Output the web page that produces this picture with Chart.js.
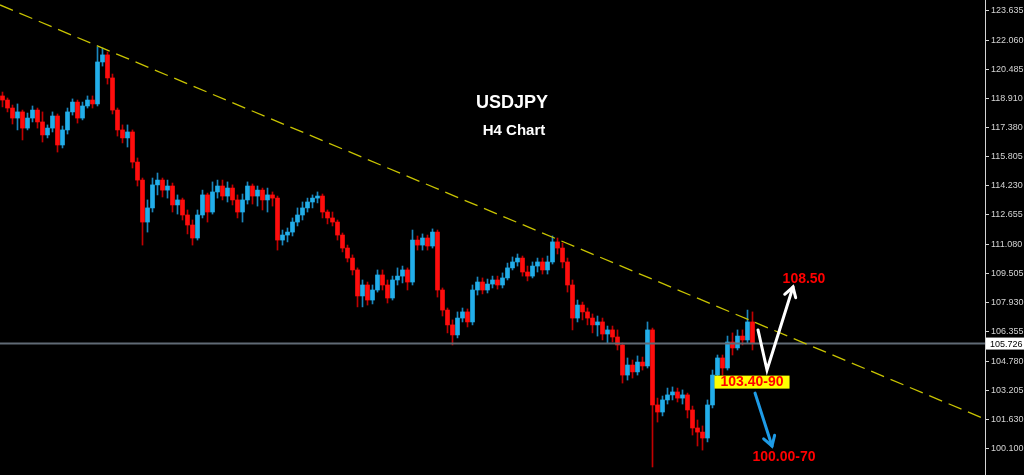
<!DOCTYPE html>
<html>
<head>
<meta charset="utf-8">
<style>
  html, body { margin: 0; padding: 0; background: #000; }
  #wrap { width: 1024px; height: 475px; position: relative; }
</style>
</head>
<body>
<div id="wrap"><canvas id="usdjpy"></canvas></div>
<script src="https://cdn.jsdelivr.net/npm/chart.js"></script>
<script>
// USDJPY H4 candles (one entry per candle, left to right)
const opens = [
  119.06, 118.84, 118.41, 117.87, 118.20, 117.33, 117.87, 118.30, 117.66, 116.96,
  117.33, 117.98, 116.42, 117.23, 118.20, 118.73, 117.87, 118.52, 118.84, 118.63,
  120.89, 121.27, 120.03, 118.30, 117.23, 116.80, 117.12, 115.50, 114.53, 112.27,
  113.03, 114.27, 114.53, 113.99, 114.21, 113.19, 113.46, 112.65, 112.11, 111.41,
  112.65, 113.73, 112.81, 113.89, 114.21, 113.67, 114.10, 113.46, 112.81, 113.46,
  114.21, 113.67, 113.99, 113.46, 113.73, 113.56, 111.30, 111.57, 111.73, 112.27,
  112.65, 113.03, 113.35, 113.56, 113.67, 112.81, 112.49, 112.27, 111.57, 110.87,
  110.33, 109.69, 108.29, 108.88, 108.07, 108.61, 109.42, 108.88, 108.18, 109.15,
  109.36, 109.69, 109.04, 111.30, 111.03, 111.41, 110.98, 111.73, 108.61, 107.53,
  106.73, 106.19, 107.10, 107.43, 106.89, 108.61, 109.04, 108.61, 108.93, 109.15,
  108.88, 109.26, 109.80, 110.12, 110.33, 109.58, 109.36, 109.90, 110.12, 109.69,
  110.12, 111.20, 110.87, 110.12, 108.88, 107.10, 107.80, 107.43, 107.10, 106.73,
  106.89, 106.24, 106.46, 106.08, 105.65, 104.03, 104.57, 104.20, 104.73, 104.52,
  106.46, 102.42, 102.04, 102.69, 102.96, 103.12, 102.79, 102.96, 102.15, 101.18,
  100.96, 100.64, 102.42, 104.03, 104.95, 104.41, 105.81, 105.49, 106.13, 105.92,
  106.89
];
const highs = [
  119.27, 118.95, 118.57, 118.63, 118.30, 118.14, 118.52, 118.41, 118.20, 117.50,
  118.20, 118.09, 117.44, 118.41, 118.90, 118.84, 118.73, 119.06, 119.06, 121.70,
  121.64, 121.43, 120.24, 118.41, 117.50, 117.50, 117.23, 115.72, 114.64, 113.46,
  114.64, 114.91, 114.64, 114.53, 114.37, 113.73, 113.56, 112.92, 112.38, 112.92,
  113.99, 113.83, 114.43, 114.53, 114.53, 114.43, 114.27, 113.73, 113.78, 114.43,
  114.32, 114.21, 114.10, 114.10, 113.89, 113.67, 111.84, 111.95, 112.49, 113.03,
  113.35, 113.56, 113.73, 113.89, 113.78, 112.92, 112.81, 112.38, 111.68, 111.03,
  110.50, 109.80, 109.15, 109.04, 108.88, 109.69, 109.69, 109.15, 109.36, 109.80,
  109.90, 109.80, 111.84, 111.52, 111.63, 111.57, 111.90, 111.84, 108.72, 107.64,
  107.00, 107.43, 107.64, 107.59, 108.88, 109.31, 109.26, 109.20, 109.36, 109.36,
  109.53, 110.06, 110.39, 110.55, 110.44, 109.90, 110.12, 110.33, 110.33, 110.44,
  111.52, 111.41, 111.14, 110.33, 109.15, 108.07, 107.96, 107.64, 107.32, 107.21,
  107.10, 106.67, 106.67, 106.46, 105.76, 104.95, 104.84, 105.06, 105.00, 106.89,
  106.56, 102.79, 102.90, 103.33, 103.39, 103.33, 103.23, 103.06, 102.36, 101.61,
  101.29, 102.69, 104.30, 105.11, 105.11, 106.13, 106.30, 106.46, 106.46, 107.53,
  107.43
];
const lows = [
  118.47, 118.20, 117.55, 117.23, 116.69, 117.23, 117.66, 117.33, 116.58, 116.80,
  117.12, 116.04, 116.26, 117.01, 118.03, 117.60, 117.77, 118.41, 118.41, 118.52,
  120.67, 119.70, 118.09, 116.90, 116.53, 116.31, 115.18, 114.21, 111.03, 111.73,
  112.81, 113.73, 113.62, 113.56, 112.81, 112.70, 112.38, 111.63, 111.03, 111.30,
  112.49, 112.27, 112.70, 113.56, 113.46, 113.35, 113.19, 112.49, 112.27, 113.24,
  113.24, 113.13, 112.92, 112.81, 113.13, 110.76, 111.03, 111.20, 111.52, 112.06,
  112.38, 112.81, 113.03, 113.30, 112.49, 112.17, 112.06, 111.30, 110.66, 110.12,
  109.42, 107.70, 107.70, 107.80, 107.86, 108.50, 108.61, 107.91, 108.07, 108.88,
  108.99, 108.61, 108.88, 110.76, 110.76, 110.76, 110.87, 108.23, 107.21, 106.30,
  105.65, 106.03, 106.89, 106.62, 106.73, 108.34, 108.40, 108.45, 108.72, 108.66,
  108.72, 109.15, 109.69, 109.90, 109.36, 109.10, 109.26, 109.58, 109.47, 109.47,
  110.01, 110.55, 109.80, 108.50, 106.46, 106.89, 107.00, 106.73, 106.30, 106.13,
  105.92, 105.76, 105.81, 105.38, 103.60, 103.76, 103.87, 104.03, 104.30, 104.41,
  99.08, 101.50, 101.83, 102.47, 102.69, 102.58, 102.47, 101.72, 100.80, 100.21,
  99.99, 100.43, 102.26, 103.87, 104.03, 104.30, 105.11, 105.38, 105.65, 105.76,
  105.38
];
const closes = [
  118.84, 118.41, 117.87, 118.20, 117.33, 117.87, 118.30, 117.66, 116.96, 117.33,
  117.98, 116.42, 117.23, 118.20, 118.73, 117.87, 118.52, 118.84, 118.63, 120.89,
  121.27, 120.03, 118.30, 117.23, 116.80, 117.12, 115.50, 114.53, 112.27, 113.03,
  114.27, 114.53, 113.99, 114.21, 113.19, 113.46, 112.65, 112.11, 111.41, 112.65,
  113.73, 112.81, 113.89, 114.21, 113.67, 114.10, 113.46, 112.81, 113.46, 114.21,
  113.67, 113.99, 113.46, 113.73, 113.56, 111.30, 111.57, 111.73, 112.27, 112.65,
  113.03, 113.35, 113.56, 113.67, 112.81, 112.49, 112.27, 111.57, 110.87, 110.33,
  109.69, 108.29, 108.88, 108.07, 108.61, 109.42, 108.88, 108.18, 109.15, 109.36,
  109.69, 109.04, 111.30, 111.03, 111.41, 110.98, 111.73, 108.61, 107.53, 106.73,
  106.19, 107.10, 107.43, 106.89, 108.61, 109.04, 108.61, 108.93, 109.15, 108.88,
  109.26, 109.80, 110.12, 110.33, 109.58, 109.36, 109.90, 110.12, 109.69, 110.12,
  111.20, 110.87, 110.12, 108.88, 107.10, 107.80, 107.43, 107.10, 106.73, 106.89,
  106.24, 106.46, 106.08, 105.65, 104.03, 104.57, 104.20, 104.73, 104.52, 106.46,
  102.42, 102.04, 102.69, 102.96, 103.12, 102.79, 102.96, 102.15, 101.18, 100.96,
  100.64, 102.42, 104.03, 104.95, 104.41, 105.81, 105.49, 106.13, 105.92, 106.89,
  105.726
];

// price axis labels as printed on the right
const yTicks = [123.635, 122.060, 120.485, 118.910, 117.380, 115.805, 114.230, 112.655,
                111.080, 109.505, 107.930, 106.355, 104.780, 103.205, 101.630, 100.100];

// hand-drawn trendline, from left edge to right edge
const trendX = [-0.5, 196.5];
const trendY = [123.96, 101.66];

// scenario drawing (candle index, price)
const upArrowX = [151.1, 152.9, 158.1];
const upArrowY = [106.46, 104.30, 108.77];
const downArrowX = [150.5, 153.9];
const downArrowY = [103.06, 100.21];
const noteText = ['108.50', '103.40-90', '100.00-70'];
const noteX = [160.3, 149.9, 156.3];
const noteY = [109.20, 103.65, 99.62];

const BULL = '#22aeea', BEAR = '#ff0d0d';
const BULL_WICK = '#1b86bd', BEAR_WICK = '#c00000';

const last = closes[closes.length - 1];
const up = closes.map((c, i) => c >= opens[i]);

const overlay = {
  id: 'overlay',
  afterDraw(chart) {
    const { ctx, scales: { x, y }, chartArea } = chart;
    ctx.save();
    ctx.textAlign = 'center';
    ctx.textBaseline = 'middle';

    // title
    ctx.fillStyle = '#fff';
    ctx.font = 'bold 18px "Liberation Sans", Arial, sans-serif';
    ctx.fillText('USDJPY', x.getPixelForValue(101.9), y.getPixelForValue(118.68));
    ctx.font = 'bold 15px "Liberation Sans", Arial, sans-serif';
    ctx.fillText('H4 Chart', x.getPixelForValue(102.3), y.getPixelForValue(117.17));

    // white V arrow
    ctx.lineWidth = 3;
    ctx.lineCap = 'round';
    ctx.lineJoin = 'miter';
    ctx.strokeStyle = '#fff';
    const wp = upArrowX.map((v, i) => [x.getPixelForValue(v), y.getPixelForValue(upArrowY[i])]);
    ctx.beginPath();
    wp.forEach(([px, py], i) => i ? ctx.lineTo(px, py) : ctx.moveTo(px, py));
    ctx.stroke();
    arrowHead(ctx, wp[1], wp[2], 11);

    // blue arrow
    ctx.strokeStyle = '#1e9be6';
    const bp = downArrowX.map((v, i) => [x.getPixelForValue(v), y.getPixelForValue(downArrowY[i])]);
    ctx.beginPath();
    ctx.moveTo(bp[0][0], bp[0][1]);
    ctx.lineTo(bp[1][0], bp[1][1]);
    ctx.stroke();
    arrowHead(ctx, bp[0], bp[1], 11);

    // target labels
    ctx.font = 'bold 14px "Liberation Sans", Arial, sans-serif';
    noteText.forEach((t, i) => {
      const px = x.getPixelForValue(noteX[i]), py = y.getPixelForValue(noteY[i]);
      if (i === 1) {
        const w = ctx.measureText(t).width + 12;
        ctx.fillStyle = '#ffff00';
        ctx.fillRect(px - w / 2, py - 6.5, w, 13);
      }
      ctx.fillStyle = '#ff0000';
      ctx.fillText(t, px, py + 0.5);
    });

    // last price tag on the axis
    const ly = y.getPixelForValue(last);
    ctx.fillStyle = '#fff';
    ctx.fillRect(chartArea.right + 1, ly - 6, 40, 12);
    ctx.fillStyle = '#000';
    ctx.textAlign = 'left';
    ctx.font = '9px "Liberation Sans", Arial, sans-serif';
    ctx.fillText(last.toFixed(3), chartArea.right + 5, ly + 0.5);
    ctx.restore();
  }
};

function arrowHead(ctx, from, to, size) {
  const a = Math.atan2(to[1] - from[1], to[0] - from[0]);
  ctx.beginPath();
  ctx.moveTo(to[0] - size * Math.cos(a - 0.55), to[1] - size * Math.sin(a - 0.55));
  ctx.lineTo(to[0], to[1]);
  ctx.lineTo(to[0] - size * Math.cos(a + 0.55), to[1] - size * Math.sin(a + 0.55));
  ctx.stroke();
}

new Chart(document.getElementById('usdjpy'), {
  type: 'bar',
  data: {
    datasets: [
      {
        type: 'line',
        order: 0,
        data: trendX.map((v, i) => ({ x: v, y: trendY[i] })),
        borderColor: '#c9c400',
        borderWidth: 1.3,
        borderDash: [14, 7],
        pointRadius: 0
      },
      {
        type: 'line',
        order: 1,
        data: [{ x: -0.5, y: last }, { x: 196.5, y: last }],
        borderColor: '#606a75',
        borderWidth: 2,
        pointRadius: 0
      },
      {
        order: 2,
        data: closes.map((c, i) => ({ x: i, y: [opens[i], c] })),
        backgroundColor: up.map(u => u ? BULL : BEAR),
        barThickness: 4,
        minBarLength: 1,
        grouped: false
      },
      {
        order: 3,
        data: closes.map((c, i) => ({ x: i, y: [lows[i], highs[i]] })),
        backgroundColor: up.map(u => u ? BULL_WICK : BEAR_WICK),
        barThickness: 1,
        grouped: false
      }
    ]
  },
  options: {
    responsive: true,
    maintainAspectRatio: false,
    animation: false,
    layout: { padding: 0 },
    plugins: { legend: { display: false }, tooltip: { enabled: false } },
    scales: {
      x: {
        type: 'linear', min: -0.5, max: 196.5, display: false,
        offset: false, grid: { offset: false }
      },
      y: {
        position: 'right',
        min: 98.648,
        max: 124.227,
        afterBuildTicks: s => { s.ticks = yTicks.map(v => ({ value: v })); },
        afterFit: s => { s.width = 39; s.paddingTop = 0; s.paddingBottom = 0; },
        ticks: {
          color: '#d4d4d4',
          padding: 2,
          font: { family: '"Liberation Sans", Arial, sans-serif', size: 9 },
          callback: v => v.toFixed(3)
        },
        grid: { drawOnChartArea: false, tickLength: 4, color: '#d4d4d4' },
        border: { color: '#d4d4d4' }
      }
    }
  },
  plugins: [overlay]
});
</script>
</body>
</html>
